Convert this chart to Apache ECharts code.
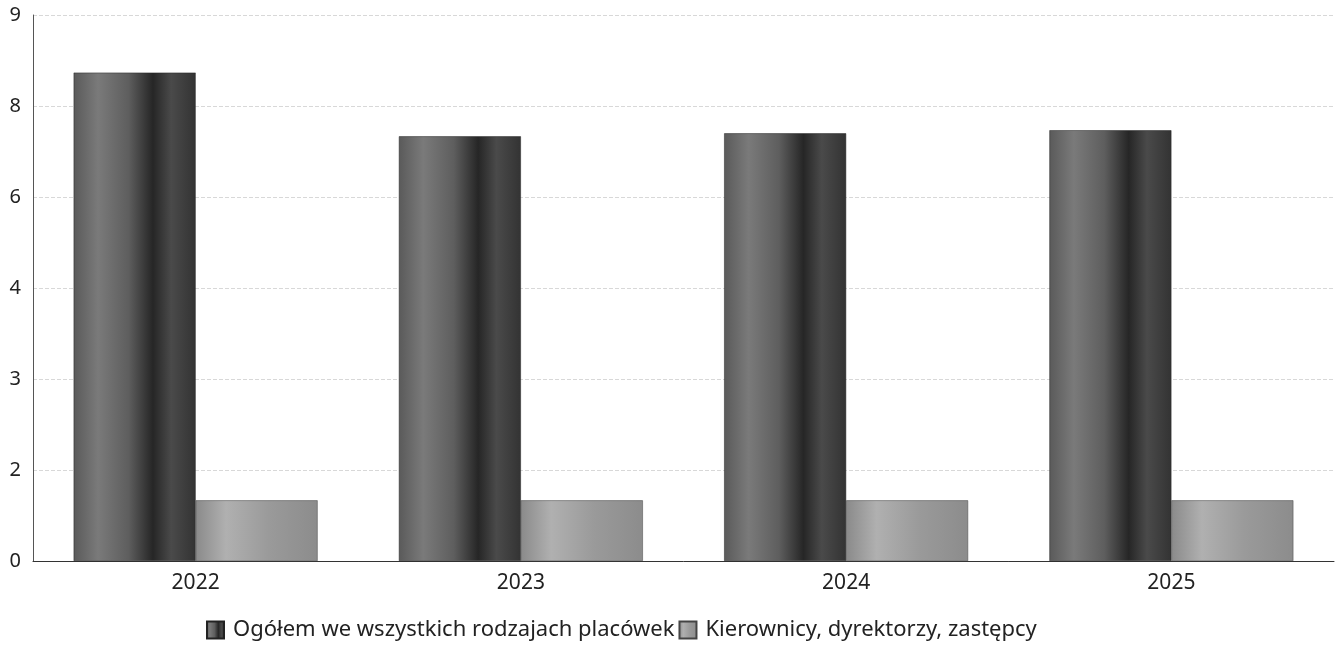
<!DOCTYPE html>
<html>
<head>
<meta charset="utf-8">
<script src="https://cdn.jsdelivr.net/npm/echarts@6/dist/echarts.min.js"></script>
<style>html,body{margin:0;padding:0;background:#fff}#c{width:1338px;height:648px}</style>
</head>
<body>
<div id="c"></div>
<script>
var categories = ['2022', '2023', '2024', '2025'];
var seriesNames = ['Ogółem we wszystkich rodzajach placówek', 'Kierownicy, dyrektorzy, zastępcy'];
var totalValues = [8.05, 7.0, 7.05, 7.1];
var managerValues = [1.0, 1.0, 1.0, 1.0];
var tickLabels = ['0', '2', '3', '4', '6', '8', '9'];

function grad(stops) {
  return new echarts.graphic.LinearGradient(0, 0, 1, 0, stops.map(function (s) { return { offset: s[0], color: s[1] }; }));
}
var darkGrad = grad([[0, '#5a5a5a'], [0.2, '#7a7a7a'], [0.45, '#5e5e5e'], [0.65, '#262626'], [0.8, '#4a4a4a'], [1, '#333333']]);
var lightGrad = grad([[0, '#8a8a8a'], [0.25, '#b0b0b0'], [0.6, '#9a9a9a'], [1, '#8c8c8c']]);

var chart = echarts.init(document.getElementById('c'), null, { renderer: 'canvas' });
chart.setOption({
  animation: false,
  backgroundColor: '#ffffff',
  grid: { left: 33, right: 4, top: 15, bottom: 87, containLabel: false },
  legend: {
    bottom: 2,
    left: 201,
    itemGap: 4,
    itemWidth: 17,
    itemHeight: 17,
    icon: 'rect',
    textStyle: { fontFamily: 'Noto Sans', fontSize: 22, color: '#222', padding: [0, 0, 0, 4] },
    data: seriesNames
  },
  xAxis: {
    type: 'category',
    data: categories,
    axisLine: { show: true, lineStyle: { color: '#333', width: 1 } },
    axisTick: { show: false },
    axisLabel: { fontFamily: 'Noto Sans', fontSize: 21, color: '#222', margin: 12 }
  },
  yAxis: {
    type: 'value',
    min: 0,
    max: 9,
    interval: 1.5,
    axisLine: { show: true, lineStyle: { color: '#555', width: 1 } },
    axisTick: { show: false },
    splitLine: { show: true, lineStyle: { color: '#d8d8d8', type: 'dashed', width: 1 } },
    axisLabel: {
      fontFamily: 'Noto Sans', fontSize: 20, color: '#222', margin: 12,
      formatter: function (v) { return tickLabels[Math.round(v / 1.5)]; }
    }
  },
  series: [
    {
      name: seriesNames[0], type: 'bar', data: totalValues,
      barGap: '0%', barCategoryGap: '25%',
      itemStyle: { color: darkGrad, borderColor: '#222', borderWidth: 0.5 }
    },
    {
      name: seriesNames[1], type: 'bar', data: managerValues,
      itemStyle: { color: lightGrad, borderColor: '#444', borderWidth: 0.5 }
    }
  ]
});
</script>
</body>
</html>
